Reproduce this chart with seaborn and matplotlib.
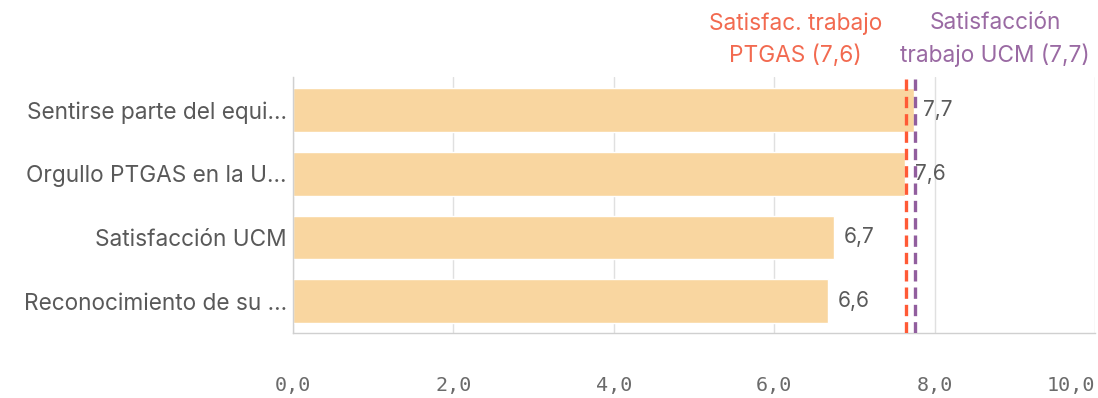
import math
import seaborn as sns
import matplotlib.pyplot as plt
import matplotlib.transforms as mtransforms

categories = ["Sentirse parte del equi...", "Orgullo PTGAS en la U...",
              "Satisfacción UCM", "Reconocimiento de su ..."]
values = [7.74, 7.63, 6.74, 6.67]

ref_values = [7.64, 7.76]
ref_names = ["Satisfac. trabajo\nPTGAS", "Satisfacción\ntrabajo UCM"]
ref_colors = ["#FF5A36", "#915E9E"]
ref_text_colors = ["#F26A50", "#9A6AA3"]

xticks = [0, 2, 4, 6, 8, 10]


def fmt(v):
    # labels in the chart are truncated to one decimal, comma separator
    return f"{math.floor(v * 10 + 1e-9) / 10:.1f}".replace(".", ",")


sns.set_style("white")
plt.rcParams['font.family'] = ['Inter', 'DejaVu Sans']

fig = plt.figure(figsize=(10.98, 3.98), dpi=100)
ax = fig.add_axes([0.2668, 0.1633, 0.7305, 0.6432])

sns.barplot(x=values, y=categories, orient="h", color="#F9D6A0",
            saturation=1, width=0.69, ax=ax)

ax.set_xlim(0, 10)
ax.set_ylim(3.5, -0.52)
ax.set_xticks(xticks)
ax.set_xticklabels([fmt(t) for t in xticks],
                   family="DejaVu Sans Mono", fontsize=14.5, color="#6b6b6b")
ax.get_xticklabels()[-1].set_horizontalalignment("right")
ax.tick_params(axis="x", length=12, width=1, color="#dedede", pad=19)
ax.tick_params(axis="y", length=0, pad=4.5, labelsize=16.3, labelcolor="#595959")
ax.set_xlabel("")
ax.set_ylabel("")

ax.grid(axis="x", color="#e0e0e0", linewidth=1)
ax.set_axisbelow(True)
for side in ["top", "right"]:
    ax.spines[side].set_visible(False)
for side in ["left", "bottom"]:
    ax.spines[side].set_color("#d0d0d0")
    ax.spines[side].set_linewidth(1)

for i, v in enumerate(values):
    ax.annotate(fmt(v), xy=(v, i), xytext=(7, 0),
                textcoords="offset points", va="center", ha="left",
                fontsize=15, color="#5a5a5a")

trans = mtransforms.blended_transform_factory(ax.transData, ax.transAxes)
offsets = [(-17, "right"), (-11, "left")]
for rv, name, c, tc, (dx, ha) in zip(ref_values, ref_names, ref_colors,
                                     ref_text_colors, offsets):
    ax.axvline(rv, color=c, linewidth=2.4, linestyle=(0, (3.4, 1.8)), zorder=3)
    ax.annotate(f"{name} ({fmt(rv)})", xy=(rv, 1), xycoords=trans,
                xytext=(dx, 7), textcoords="offset points", ha=ha,
                va="bottom", fontsize=16.3, color=tc,
                multialignment="center", linespacing=1.55)

fig.savefig("out.png", dpi=100)
